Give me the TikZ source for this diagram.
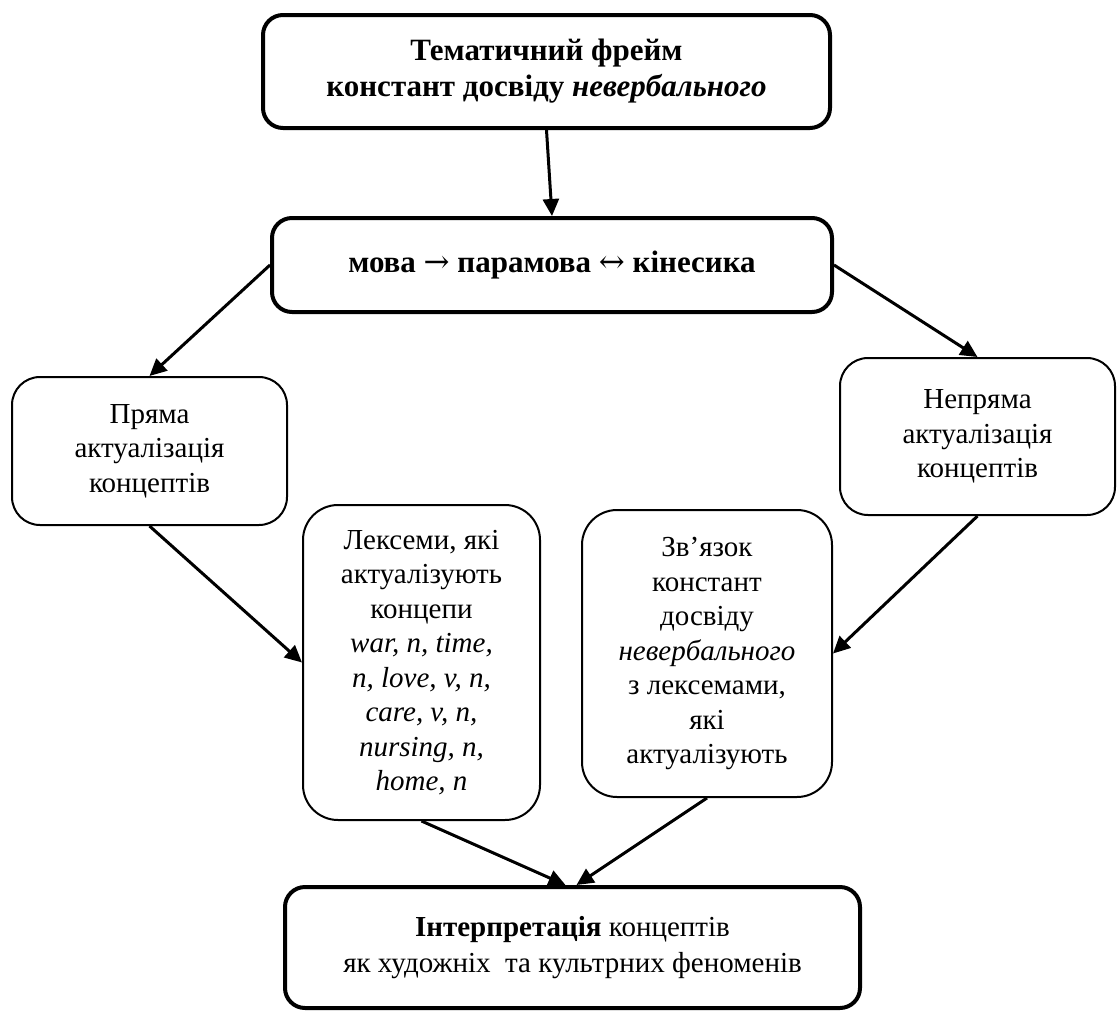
\documentclass[tikz,border=0pt]{standalone}
\usepackage{fontspec}
\setmainfont{Liberation Serif}
\newfontfamily\arrowfont{DejaVu Serif}
\usetikzlibrary{arrows.meta}
\begin{document}
\begin{tikzpicture}[x=1pt,y=-1pt,
  boxtext/.style={align=center, inner sep=0pt, font=\fontsize{29}{34.5}\selectfont},
  heavybox/.style={boxtext, draw, line width=4pt, rounded corners=20pt},
  lightbox/.style={boxtext, draw, line width=2pt, rounded corners=28pt},
  bigtext/.style={font=\fontsize{31}{36}\selectfont},
  link/.style={line width=3pt, -{Triangle[length=17pt,width=16pt]}}
]
\useasboundingbox (0,0) rectangle (1117,1012);

% framing boxes
\node[heavybox, bigtext, minimum width=567pt, minimum height=113pt] (frame) at (546.5,71.5)
  {\textbf{Тематичний фрейм}\\\textbf{констант досвіду \textit{невербального}}};
\node[heavybox, bigtext, minimum width=560pt, minimum height=94pt] (chain) at (552,265)
  {\textbf{мова {\arrowfont\mdseries →} парамова {\arrowfont\mdseries ↔} кінесика}};

% two ways of actualisation
\node[lightbox, minimum width=275pt, minimum height=148pt] (direct) at (149.5,451)
  {Пряма\\актуалізація\\концептів};
\node[lightbox, minimum width=275pt, minimum height=157pt] (indirect) at (977.5,436.5)
  {Непряма\\актуалізація\\концептів};

% lexemes and links
\node[lightbox, rounded corners=35pt, minimum width=237pt, minimum height=315pt] (lex) at (421.5,662.5)
  {Лексеми, які\\актуалізують\\концепи\\\textit{war, n, time,}\\\textit{n, love, v, n,}\\\textit{care, v, n,}\\\textit{nursing, n,}\\\textit{home, n}};
\node[lightbox, rounded corners=35pt, minimum width=250pt, minimum height=287pt] (bond) at (707,653.5)
  {Зв’язок\\констант\\досвіду\\\textit{невербального}\\з лексемами,\\які\\актуалізують};

% interpretation
\node[heavybox, font=\fontsize{29}{36}\selectfont, minimum width=575pt, minimum height=121pt] (interp) at (572.5,947.5)
  {\textbf{Інтерпретація} концептів\\як художніх\ \ та культрних феноменів};

% connectors
\draw[link] (frame.south) -- (chain.north);
\draw[link] (chain.west) -- (direct.north);
\draw[link] (chain.east) -- (indirect.north);
\draw[link] (direct.south) -- (lex.west);
\draw[link] (indirect.south) -- (bond.east);
\draw[link] (lex.south) -- ([xshift=-7pt]interp.north);
\draw[link] (bond.south) -- ([xshift=4pt]interp.north);
\end{tikzpicture}
\end{document}
